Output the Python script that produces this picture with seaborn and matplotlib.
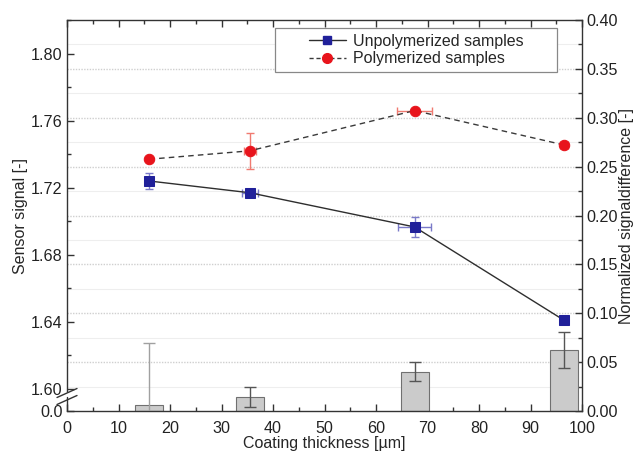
import numpy as np
import pandas as pd
import matplotlib
matplotlib.use("Agg")
import matplotlib.pyplot as plt
from matplotlib.lines import Line2D
from matplotlib.patches import Rectangle
from matplotlib.ticker import MultipleLocator, FixedLocator
import seaborn as sns

# ---- data ----
thickness = [16.0, 35.5, 67.5, 96.5]
unpoly = [1.724, 1.717, 1.6966, 1.641]
unpoly_yerr = [0.0048, 0.0016, 0.006, 0.001]
unpoly_xerr = [0.0, 1.6, 3.2, 0.6]
poly = [1.737, 1.742, 1.766, 1.7455]
poly_yerr = [0.001, 0.0107, 0.001, 0.0015]
poly_xerr = [0.0, 1.2, 3.4, 0.8]
diff = [0.006, 0.0143, 0.040, 0.0624]
diff_err = [0.064, 0.0105, 0.0097, 0.0185]
bar_width = 5.4

sns.set_style("ticks")
plt.rcParams['font.family'] = ['Liberation Sans', 'DejaVu Sans']
plt.rcParams['font.size'] = 12

TICK_FS = 11.6
LAB_FS = 11.5

fig = plt.figure(figsize=(6.36, 4.53), dpi=100)
ax_r = fig.add_axes([67/636, 1-411/453, 515/636, 391/453])
ax_l = ax_r.twinx()

# right axis (bars, grid)
ax_r.set_ylim(0, 0.40)
ax_r.set_xlim(0, 100)
ax_r.yaxis.tick_right()
ax_r.yaxis.set_label_position('right')
ax_r.yaxis.set_major_locator(MultipleLocator(0.05))
ax_r.yaxis.set_minor_locator(MultipleLocator(0.025))
ax_r.yaxis.set_major_formatter(matplotlib.ticker.FormatStrFormatter('%.2f'))
ax_r.xaxis.set_major_locator(MultipleLocator(10))
ax_r.xaxis.set_minor_locator(MultipleLocator(5))
for yv in np.arange(0.05, 0.40, 0.05):
    ax_r.axhline(yv, color='#cfcfcf', lw=1.0, ls=(0, (1, 1)), zorder=0)
for yv in np.arange(0.025, 0.40, 0.05):
    ax_r.axhline(yv, color='#eeeeee', lw=0.8, ls='-', zorder=0)

ax_r.bar(thickness, diff, width=bar_width, color='#cbcbcb', edgecolor='#707070',
         linewidth=0.8, zorder=2)
err_cols = ['#a0a0a0', '#555555', '#555555', '#555555']
for xv, yv, ev, c in zip(thickness, diff, diff_err, err_cols):
    ax_r.errorbar([xv], [yv], yerr=[ev], fmt='none', ecolor=c, elinewidth=1.0,
                  capsize=4, capthick=1.0, zorder=3)

ax_r.set_ylabel('Normalized signaldifference [-]', fontsize=LAB_FS, labelpad=1)
ax_r.set_xlabel('Coating thickness [µm]', fontsize=LAB_FS, labelpad=0)

# left axis (sensor signal)
ybot = 1.60 - 22/1677
ax_l.set_ylim(ybot, 1.82)
ax_l.yaxis.tick_left()
ax_l.yaxis.set_label_position('left')
ax_l.yaxis.set_major_locator(FixedLocator([ybot, 1.60, 1.64, 1.68, 1.72, 1.76, 1.80]))
ax_l.yaxis.set_minor_locator(FixedLocator([1.62, 1.66, 1.70, 1.74, 1.78, 1.82]))
ax_l.set_yticklabels(['0.0', '1.60', '1.64', '1.68', '1.72', '1.76', '1.80'])
ax_l.set_ylabel('Sensor signal [-]', fontsize=LAB_FS, labelpad=2)

sns.lineplot(x=thickness, y=unpoly, ax=ax_l, color='#2e2e2e', lw=1.0,
             marker='s', markersize=6.5, markerfacecolor='#20209a',
             markeredgecolor='#20209a', zorder=5)
sns.lineplot(x=thickness, y=poly, ax=ax_l, color='#3a3a3a', lw=1.0,
             linestyle=(0, (4, 3)), marker='o', markersize=7.5,
             markerfacecolor='#e8141c', markeredgecolor='#e8141c', zorder=5)
ax_l.errorbar(thickness, unpoly, yerr=unpoly_yerr, xerr=unpoly_xerr, fmt='none',
              ecolor='#7a7ac8', elinewidth=1.0, capsize=3, zorder=4)
ax_l.errorbar(thickness, poly, yerr=poly_yerr, xerr=poly_xerr, fmt='none',
              ecolor='#f07a70', elinewidth=1.0, capsize=3, zorder=4)

# ticks styling
for a in (ax_r, ax_l):
    a.tick_params(which='both', direction='in', colors='#333333', labelcolor='#222222',
                  labelsize=TICK_FS, width=1.0)
    a.tick_params(which='major', length=5)
    a.tick_params(which='minor', length=3)
ax_r.tick_params(axis='x', which='both', top=True)
ax_r.tick_params(axis='x', pad=7)
ax_l.tick_params(axis='y', pad=3)
ax_r.tick_params(axis='y', pad=3)

for a in (ax_r, ax_l):
    for s in a.spines.values():
        s.set_color('#333333')
        s.set_linewidth(1.0)
ax_r.spines['left'].set_visible(False)
ax_l.spines['bottom'].set_visible(False)
ax_l.spines['top'].set_visible(False)
ax_l.spines['right'].set_visible(False)
ax_l.spines['left'].set_bounds(1.60 - 2/1677, 1.82)

# break segment and slashes (axes coordinates)
tr = ax_l.transAxes
ax_l.plot([0, 0], [0, 14/391], transform=tr, color='#333333', lw=1.0, clip_on=False)
for yc in (18/391, 11/391):
    ax_l.plot([-10/515, 10/515], [yc - 4.5/391, yc + 4.5/391], transform=tr,
              color='#333333', lw=1.0, clip_on=False)

# legend: box drawn as a frame rectangle, entries centred inside
ax_l.add_patch(Rectangle((0.404, 0.867), 0.951 - 0.404, 0.98 - 0.867,
                         transform=tr, facecolor='white', edgecolor='#888888',
                         lw=0.9, zorder=9))
handles = [Line2D([], [], color='#2e2e2e', lw=1.0, marker='s', markersize=6,
                  markerfacecolor='#20209a', markeredgecolor='#20209a'),
           Line2D([], [], color='#3a3a3a', lw=1.0, ls=(0, (3, 2)), marker='o', markersize=7,
                  markerfacecolor='#e8141c', markeredgecolor='#e8141c')]
leg = ax_l.legend(handles, ['Unpolymerized samples', 'Polymerized samples'],
                  loc='center', bbox_to_anchor=(0.678, 0.923), borderaxespad=0,
                  frameon=False, fontsize=LAB_FS,
                  handlelength=2.3, handletextpad=0.45, labelspacing=0.15,
                  borderpad=0)
leg.set_zorder(10)

fig.savefig('out.png', dpi=100)
